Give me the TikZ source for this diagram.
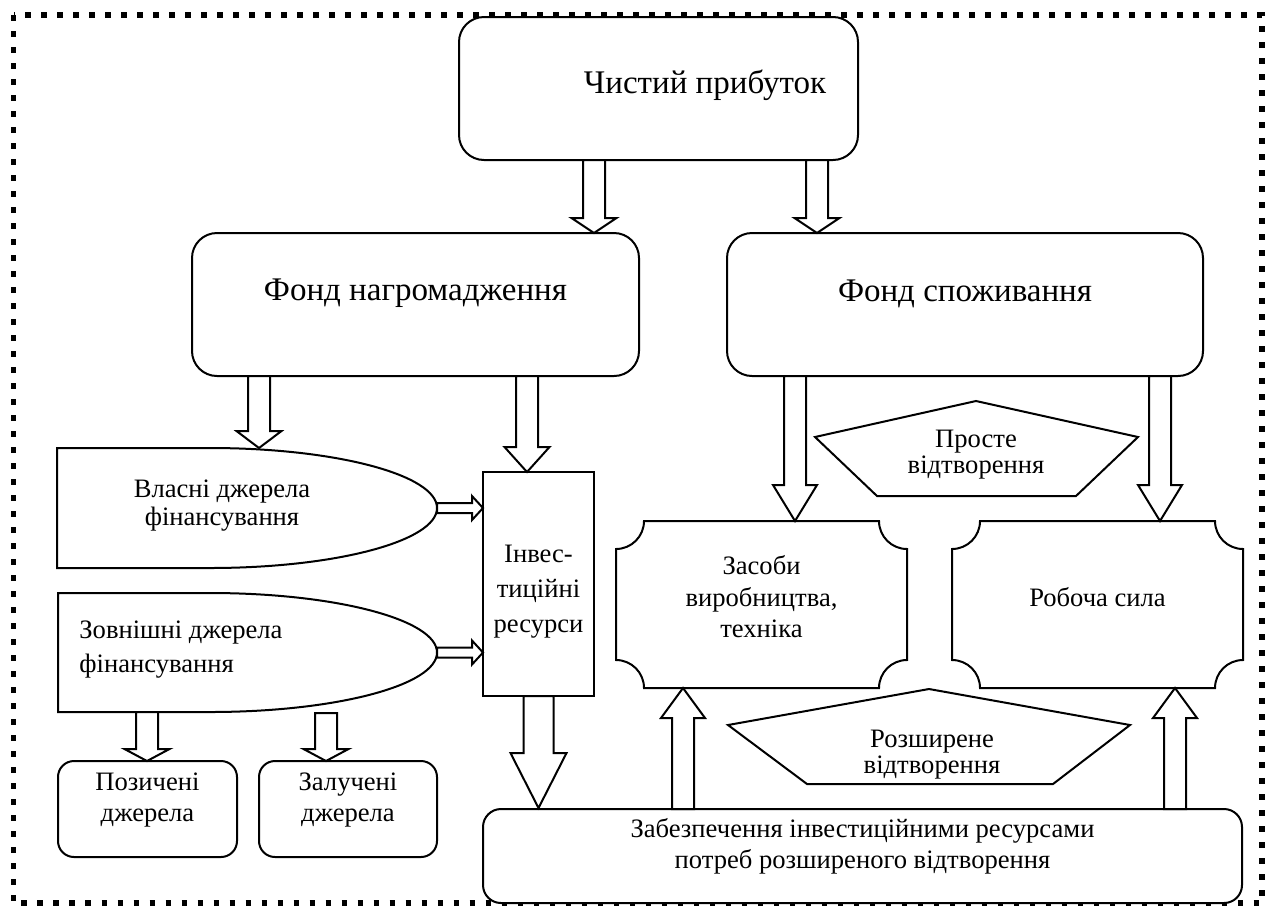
\documentclass[tikz,border=0pt]{standalone}
\usepackage{fontspec}
\setmainfont{Liberation Serif}
\usetikzlibrary{calc,fit}

\newcommand\dgbig{\fontsize{16.5pt}{19pt}\selectfont}
\newcommand\dgsmall{\fontsize{13.3pt}{15.5pt}\selectfont}

\tikzset{
  x=0.5pt, y=0.5pt,
  shapeline/.style={draw, line width=1pt, fill=white, line join=miter},
  boxfit/.style={inner sep=0pt, outer sep=0pt},
  bigbox/.style={boxfit, shapeline, rounded corners=12.5pt, font=\dgbig},
  smallbox/.style={boxfit, shapeline, rounded corners=8pt, font=\dgsmall, align=center},
  plainbox/.style={boxfit, shapeline, font=\dgsmall, align=center},
  holder/.style={boxfit, draw=none},
  txt/.style={font=\dgsmall, align=center, inner sep=0pt},
  barrow/.style={draw, line width=1pt, fill=white, line join=miter},
  dotframe/.style={draw, line width=2.6pt, dash pattern=on 2.8pt off 5.2pt},
}

% block arrow: from, to, shaft half-width, head half-width, head length
\newcommand\blockarrow[5]{%
  \coordinate (ba-s) at #1;
  \coordinate (ba-e) at #2;
  \coordinate (ba-h) at ($(ba-e)!#5!(ba-s)$);
  \filldraw[barrow]
    ($(ba-s)!#3!90:(ba-e)$) -- ($(ba-h)!#3!90:(ba-e)$) -- ($(ba-h)!#4!90:(ba-e)$)
    -- (ba-e) -- ($(ba-h)!#4!-90:(ba-e)$) -- ($(ba-h)!#3!-90:(ba-e)$)
    -- ($(ba-s)!#3!-90:(ba-e)$) -- cycle;}

% rectangle with concave quarter-circle corners around a holder node
\newcommand\plaqueoutline[2]{%
  \filldraw[shapeline] ($(#1.north west)+(0pt,-#2)$) arc[start angle=270,end angle=360,radius=#2]
    -- ($(#1.north east)+(-#2,0pt)$) arc[start angle=180,end angle=270,radius=#2]
    -- ($(#1.south east)+(0pt,#2)$) arc[start angle=90,end angle=180,radius=#2]
    -- ($(#1.south west)+(#2,0pt)$) arc[start angle=0,end angle=90,radius=#2] -- cycle;}

% rectangle whose right side is a half ellipse
\newcommand\delayoutline[3]{% node, x where the curve starts, x radius
  \filldraw[shapeline] (#1.south west) -- (#1.north west) -- (#1.north west -| #2,0)
    arc[start angle=90,end angle=-90,x radius=#3,y radius={0.5*(\pgfkeysvalueof{/dg/h})}]
    -- cycle;}

\begin{document}
\begin{tikzpicture}
\useasboundingbox (0,0) rectangle (1272,-906);

% dotted frame
\draw[dotframe] (13.5,-15) rectangle (1262,-903);

% main boxes
\node[bigbox, fit={(459,-17)(858,-160)},
      label={[font=\dgbig, inner sep=0pt, xshift=23.25pt, yshift=1.75pt]center:Чистий прибуток}] (top) {};
\node[bigbox, fit={(192,-233)(639,-376)}] (fondN) {Фонд нагромадження};
\node[bigbox, fit={(727,-233)(1203,-376)}] (fondS) {Фонд споживання};

% own and external sources
\node[holder, fit={(57,-448)(437,-568)}] (vl) {};
\filldraw[shapeline] (vl.south west) -- (vl.north west) -- (210,-448)
  arc[start angle=90,end angle=-90,x radius=113.5pt,y radius=30pt] -- cycle;
\node[txt, font=\fontsize{13.3pt}{14pt}\selectfont] (vltext) at (222,-506) {Власні джерела\\фінансування};

\node[holder, fit={(58,-593)(437,-712)}] (zv) {};
\filldraw[shapeline] (zv.south west) -- (zv.north west) -- (210,-593)
  arc[start angle=90,end angle=-90,x radius=113.5pt,y radius=29.75pt] -- cycle;
\node[txt, align=left, anchor=west, font=\fontsize{13.3pt}{17pt}\selectfont] (zvtext) at (79,-650) {Зовнішні джерела\\фінансування};

% investment resources
\node[plainbox, fit={(483,-472)(594,-696)},
      label={[txt, font=\fontsize{13.3pt}{17.5pt}\selectfont, yshift=-4pt]center:{Інвес-\\тиційні\\ресурси}}] (inv) {};

% borrowed and attracted sources
\node[smallbox, fit={(58,-761)(237,-857)}] (poz) {Позичені\\джерела};
\node[smallbox, fit={(259,-761)(437,-857)}] (zal) {Залучені\\джерела};

% bottom box
\node[smallbox, rounded corners=9pt, fit={(483,-809)(1242,-903)}] (bot)
  {Забезпечення інвестиційними ресурсами\\потреб розширеного відтворення};

% means of production and labour
\node[holder, fit={(616,-521)(907,-688)}] (zas) {};
\plaqueoutline{zas}{14pt}
\node[txt, font=\fontsize{13.3pt}{15.75pt}\selectfont] (zastext) at (761.5,-597) {Засоби\\виробництва,\\техніка};

\node[holder, fit={(952,-521)(1243,-688)}] (rob) {};
\plaqueoutline{rob}{14pt}
\node[txt] (robtext) at (1097.5,-597) {Робоча сила};

% reproduction pentagons
\filldraw[shapeline] (976,-401) -- (1138,-437) -- (1076,-496) -- (877,-496) -- (815,-437) -- cycle;
\node[txt, font=\fontsize{13.3pt}{13pt}\selectfont] (prost) at (976,-455) {Просте\\відтворення};

\filldraw[shapeline] (929,-689) -- (1130,-725) -- (1053,-784) -- (807,-784) -- (728,-725) -- cycle;
\node[txt, font=\fontsize{13.3pt}{13pt}\selectfont] (rozsh) at (932,-755) {Розширене\\відтворення};

% block arrows
\coordinate (a1) at ($(top.south)+(-64.5,0)$);
\coordinate (a2) at ($(top.south)+(158.5,0)$);
\blockarrow{(a1)}{(a1 |- fondN.north)}{5.5pt}{11.25pt}{7.5pt}
\blockarrow{(a2)}{(a2 |- fondS.north)}{5.5pt}{11.25pt}{7.5pt}

\coordinate (c1) at ($(fondN.south)+(-156.5,0)$);
\coordinate (d1) at ($(fondN.south)+(111.5,0)$);
\blockarrow{(c1)}{(c1 |- vl.north)}{5.5pt}{11.25pt}{8.5pt}
\blockarrow{(d1)}{(d1 |- inv.north)}{5.5pt}{11.25pt}{12.5pt}

\blockarrow{(vl.east)}{(vl.east -| inv.west)}{2.5pt}{6pt}{5.5pt}
\blockarrow{(zv.east)}{(zv.east -| inv.west)}{2.5pt}{6pt}{5.5pt}

\coordinate (g1) at ($(zv.south)+(-100.5,0)$);
\coordinate (h1) at ($(zv.south)+(78.5,-1)$);
\blockarrow{(g1)}{(g1 |- poz.north)}{5.5pt}{11.25pt}{6pt}
\blockarrow{(h1)}{(h1 |- zal.north)}{5.5pt}{11.25pt}{6pt}

\blockarrow{(inv.south)}{($(inv.south |- bot.north)+(0,1)$)}{7.5pt}{14pt}{27.5pt}

\coordinate (j1) at ($(fondS.south)+(-170,0)$);
\coordinate (k1) at ($(fondS.south)+(195,0)$);
\blockarrow{(j1)}{(j1 |- zas.north)}{5.5pt}{11pt}{18pt}
\blockarrow{(k1)}{(k1 |- rob.north)}{5.5pt}{11pt}{18pt}

\coordinate (l1) at ($(bot.north)+(-179.5,0)$);
\coordinate (m1) at ($(bot.north)+(312.5,0)$);
\blockarrow{(l1)}{(l1 |- zas.south)}{5.5pt}{11pt}{15pt}
\blockarrow{(m1)}{(m1 |- rob.south)}{5.5pt}{11pt}{15pt}
\end{tikzpicture}
\end{document}
